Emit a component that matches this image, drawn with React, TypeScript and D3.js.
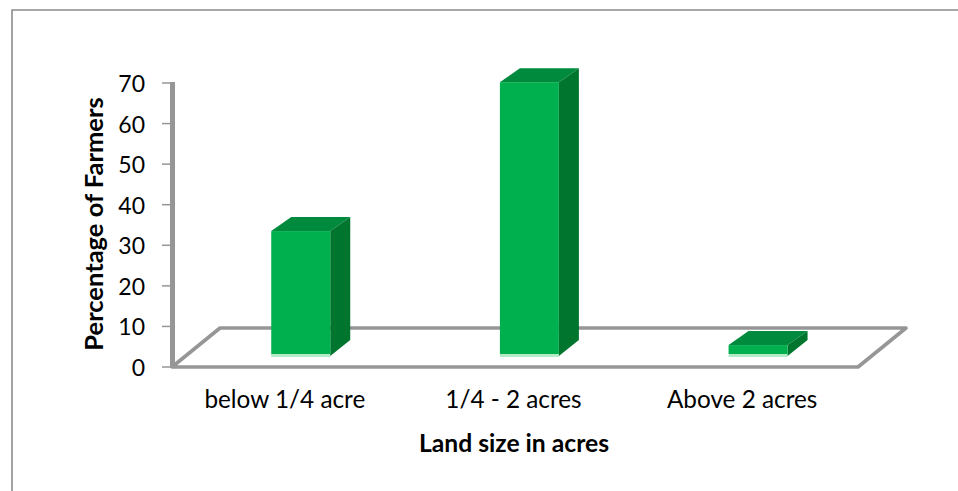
import React from "react";
import * as d3 from "d3";

const categories = ["below 1/4 acre", "1/4 - 2 acres", "Above 2 acres"];
const values = [30.3, 67, 2.2];
const yTicks = [0, 10, 20, 30, 40, 50, 60, 70];
const yTitle = "Percentage of Farmers";
const xTitle = "Land size in acres";

const FONT = "Lato, 'Open Sans', sans-serif";
const GREY = "#969696";

export default function App() {
  const y = d3.scaleLinear().domain([0, 70]).range([367, 83]);
  const x = d3.scaleBand().domain(categories).range([172, 858]).paddingInner(0.742).paddingOuter(0.371);
  const depthX = 48;
  const depthY = -39;
  const barDX = 20;
  const barDY = -14;
  const baseLift = 13;
  const barShift = 14.4;
  return (
    <svg width={958} height={491} style={{ position: "absolute", left: 0, top: 0, background: "#fff" }}>
      <defs>
        <filter id="soft" x="-5%" y="-5%" width="110%" height="110%">
          <feGaussianBlur stdDeviation={0.5} />
        </filter>
      </defs>
      <path d="M958,10 L12,10 L12,491" fill="none" stroke="#8c8c8c" strokeWidth={1.6} />
      <g filter="url(#soft)">
        {/* floor */}
        <path
          d={`M${x.range()[0]},${y(0)} L${x.range()[0] + depthX},${y(0) + depthY} L${x.range()[1] + depthX},${y(0) + depthY} L${x.range()[1]},${y(0)} Z`}
          fill="none"
          stroke={GREY}
          strokeWidth={3.6}
          strokeLinejoin="round"
        />
        {/* value axis */}
        <line x1={172.5} x2={172.5} y1={y(70) - 1} y2={y(0) + 1} stroke={GREY} strokeWidth={5} />
        {yTicks.map((t) => (
          <line key={t} x1={162} x2={172} y1={y(t)} y2={y(t)} stroke={GREY} strokeWidth={1.5} />
        ))}
        {/* bars */}
        {categories.map((c, i) => {
          const x0 = x(c)! + barShift;
          const w = x.bandwidth();
          const top = y(values[i]) - baseLift;
          const bottom = y(0) - baseLift;
          return (
            <g key={c}>
              <rect x={x0} y={bottom} width={w} height={3} fill="#b4ecca" />
              <path d={`M${x0},${top} L${x0 + barDX},${top + barDY} L${x0 + w + barDX},${top + barDY} L${x0 + w},${top} Z`} fill="#008a3e" />
              <path d={`M${x0 + w},${top} L${x0 + w + barDX},${top + barDY} L${x0 + w + barDX},${bottom + barDY} L${x0 + w},${bottom + 2} Z`} fill="#00752f" />
              <rect x={x0} y={top} width={w} height={bottom - top} fill="#00b04f" />
            </g>
          );
        })}
      </g>
      {yTicks.map((t) => (
        <text key={t} x={145} y={y(t) + 9} textAnchor="end" fontFamily={FONT} fontSize={23} fill="#000">{t}</text>
      ))}
      {categories.map((c) => (
        <text key={c} x={x(c)! + x.bandwidth() / 2 - 1.5} y={408} textAnchor="middle" fontFamily={FONT} fontSize={24.3} fill="#000">{c}</text>
      ))}
      <text x={514} y={452} textAnchor="middle" fontFamily={FONT} fontSize={24.7} fontWeight={700} fill="#000">{xTitle}</text>
      <text transform="translate(103,224) rotate(-90)" textAnchor="middle" fontFamily={FONT} fontSize={25.5} fontWeight={700} fill="#000">{yTitle}</text>
    </svg>
  );
}
